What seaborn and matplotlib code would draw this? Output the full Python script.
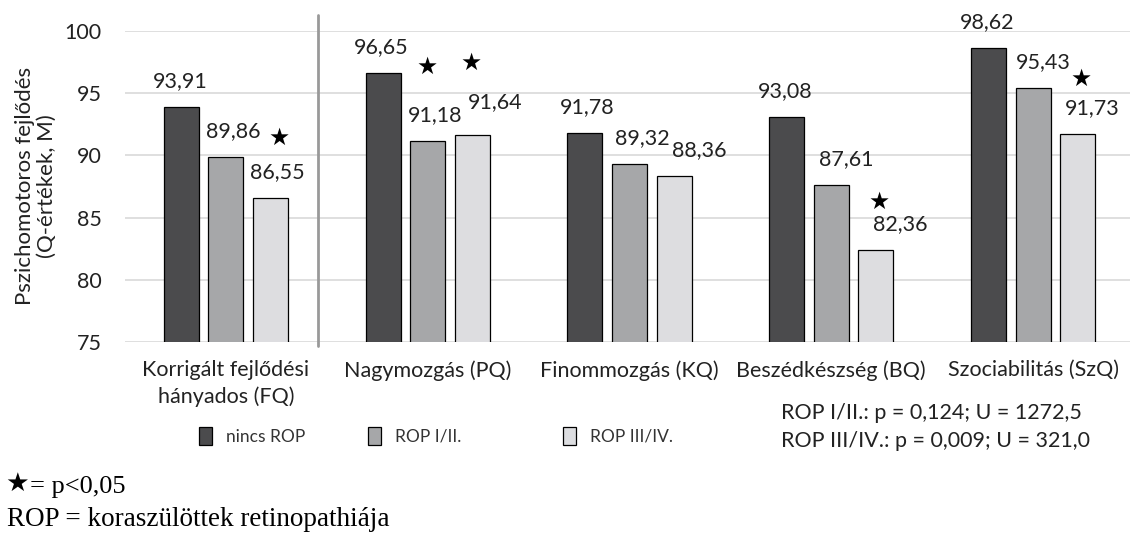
import numpy as np
import pandas as pd
import seaborn as sns
import matplotlib.pyplot as plt
from matplotlib.patches import Patch

# adatok
categories = ['Korrigált fejlődési\nhányados (FQ)', 'Nagymozgás (PQ)', 'Finommozgás (KQ)',
              'Beszédkészség (BQ)', 'Szociabilitás (SzQ)']
groups = ['nincs ROP', 'ROP I/II.', 'ROP III/IV.']
nincs_rop = [93.91, 96.65, 91.78, 93.08, 98.62]
rop_1_2 = [89.86, 91.18, 89.32, 87.61, 95.43]
rop_3_4 = [86.55, 91.64, 88.36, 82.36, 91.73]
# csillag (p<0,05): kategoria, csoport, magassag
star_cat = [0, 1, 1, 3, 4]
star_grp = [2, 1, 2, 2, 2]
star_y = [91.4, 97.1, 97.4, 86.25, 96.15]
stats_lines = ['ROP I/II.: p = 0,124; U = 1272,5', 'ROP III/IV.: p = 0,009; U = 321,0']

colors = ['#4b4b4d', '#a6a7a9', '#dcdde0']
# cimkek eltolasa pixelben (mint az Excel abran)
label_dx = [[-1, 7, 7], [-2, 7, 23], [2, 13, 25], [-2, 15, 24], [-1, 10, 15]]
label_dy = [[26, 26, 26], [26, 26, 33], [26, 26, 26], [26, 26, 26], [26, 26, 26]]
star_dx = [9, -1, -1, 3, 3]
legend_x = [199, 368, 563]

sns.set_style('white')
plt.rcParams['font.family'] = ['Lato', 'DejaVu Sans']

df = pd.DataFrame({
    'cat': np.repeat(categories, 3),
    'grp': groups * len(categories),
    'val': np.ravel(np.column_stack([nincs_rop, rop_1_2, rop_3_4])),
})

W, H = 1130, 533
fig = plt.figure(figsize=(W / 100, H / 100), dpi=100)
ax = fig.add_axes([125 / W, 1 - 342 / H, (1134 - 125) / W, (342 - 31) / H])

sns.barplot(data=df, x='cat', y='val', hue='grp', palette=colors, hue_order=groups,
            order=categories, width=0.662, gap=0.213, edgecolor='black', linewidth=0.9,
            errorbar=None, legend=False, ax=ax)

ax.set_ylim(75, 100)
ax.set_xlim(-0.5, 4.5)
ax.set_yticks([75, 80, 85, 90, 95, 100])
ax.yaxis.grid(True, color='#d9d9d9', linewidth=1.2)
ax.set_axisbelow(True)
for s in ax.spines.values():
    s.set_visible(False)
ax.tick_params(axis='both', length=0, labelsize=15.5, labelcolor='#222222')
ax.tick_params(axis='y', pad=17)
ax.tick_params(axis='x', pad=13)
for t in ax.get_xticklabels():
    t.set_linespacing(1.4)
ax.set_xlabel('')
ax.set_ylabel('')

# elvalaszto vonal
ax.plot([0.457, 0.457], [74.7, 101.3], color='#999999', lw=2, clip_on=False)

# ertek cimkek
bars = {}
for gi, cont in enumerate(ax.containers):
    for ci, rect in enumerate(cont):
        bars[(ci, gi)] = rect
        xc = rect.get_x() + rect.get_width() / 2
        h = rect.get_height()
        txt = '{:.2f}'.format(h).replace('.', ',')
        ax.annotate(txt, (xc, h), xytext=(label_dx[ci][gi], label_dy[ci][gi]),
                    textcoords='offset pixels', ha='center', va='center',
                    fontsize=15.5, color='#222222', annotation_clip=False)

# csillagok
for c, g, y, dx in zip(star_cat, star_grp, star_y, star_dx):
    rect = bars[(c, g)]
    xc = rect.get_x() + rect.get_width() / 2
    ax.annotate('★', (xc, y), xytext=(dx, 0), textcoords='offset pixels',
                ha='center', va='center', fontsize=17, family='DejaVu Sans',
                color='black', annotation_clip=False)

# y tengely felirat
fig.text(36 / W, 1 - 186 / H, 'Pszichomotoros fejlődés\n(Q-értékek, M)', rotation=90,
         ha='center', va='center', multialignment='center', fontsize=16,
         linespacing=1.1, color='#222222')

# jelmagyarazat
for c, g, x in zip(colors, groups, legend_x):
    fig.legend([Patch(facecolor=c, edgecolor='black', linewidth=0.9)], [g],
               loc='center left', bbox_to_anchor=(x / W, 1 - 436 / H),
               frameon=False, fontsize=12.5, handlelength=0.75, handleheight=1.2,
               handletextpad=0.8, borderpad=0, borderaxespad=0, labelcolor='#333333')

for i, line in enumerate(stats_lines):
    fig.text(781 / W, 1 - (413 + 28 * i) / H, line, ha='left', va='center',
             fontsize=15.5, color='#222222')

fig.text(5 / W, 1 - 484 / H, '★', ha='left', va='center', fontsize=19,
         family='DejaVu Sans', color='black')
fig.text(30 / W, 1 - 487 / H, '= p<0,05', ha='left', va='center', fontsize=19,
         family='Liberation Serif', color='black')
fig.text(7 / W, 1 - 520 / H, 'ROP = koraszülöttek retinopathiája', ha='left', va='center',
         fontsize=19.5, family='Liberation Serif', color='black')

fig.savefig('out.png', dpi=100)
